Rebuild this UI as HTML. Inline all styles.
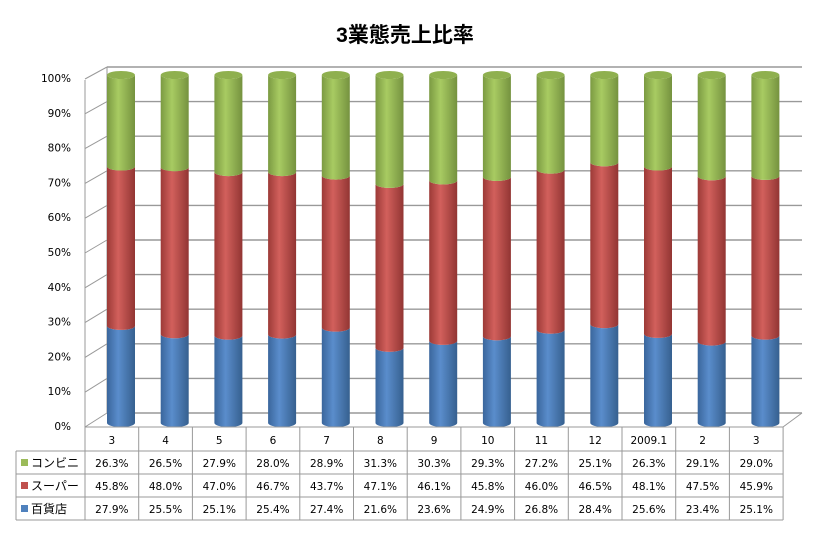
<!DOCTYPE html><html><head><meta charset="utf-8"><style>
body{margin:0;background:#fff}
svg{display:block;font-family:"DejaVu Sans","Noto Sans CJK JP",sans-serif}
</style></head><body>
<svg id="s" width="835" height="538" viewBox="0 0 835 538">
<defs>
<linearGradient id="gb" x1="0" x2="1"><stop offset="0" stop-color="#3a669c"/><stop offset="0.4" stop-color="#5a8dcc"/><stop offset="1" stop-color="#36608f"/></linearGradient>
<linearGradient id="gr" x1="0" x2="1"><stop offset="0" stop-color="#9c3a37"/><stop offset="0.4" stop-color="#d2605c"/><stop offset="1" stop-color="#923533"/></linearGradient>
<linearGradient id="gg" x1="0" x2="1"><stop offset="0" stop-color="#7b9a42"/><stop offset="0.4" stop-color="#a8cb62"/><stop offset="1" stop-color="#75923f"/></linearGradient>
</defs>
<text x="405" y="42" font-size="21" font-weight="bold" text-anchor="middle" fill="#000" font-family="Liberation Sans, Noto Sans CJK JP, sans-serif">3業態売上比率</text>
<g id="grid"></g><g id="bars"></g><g id="tbl"></g>
</svg>
<script>
var ns="http://www.w3.org/2000/svg";
function el(p,t,a,txt){var e=document.createElementNS(ns,t);for(var k in a)e.setAttribute(k,a[k]);if(txt!=null)e.textContent=txt;p.appendChild(e);return e;}
var g=document.getElementById('grid');
for(var i=0;i<=10;i++){var yb=413-i*34.6,yf=426-i*34.8;
 el(g,'line',{x1:107,y1:yb,x2:802,y2:yb,stroke:'#999','stroke-width':1.4});
 el(g,'line',{x1:85,y1:yf+1,x2:107,y2:yb,stroke:'#999','stroke-width':1});
 el(g,'text',{x:71,y:yf+4,'font-size':10.5,'text-anchor':'end',fill:'#000'},(i*10)+'%');}
el(g,'line',{x1:107,y1:67,x2:107,y2:413,stroke:'#999'});
el(g,'line',{x1:85,y1:80,x2:85,y2:427,stroke:'#999'});
el(g,'line',{x1:85,y1:427,x2:783,y2:427,stroke:'#999'});
el(g,'line',{x1:783,y1:427,x2:802,y2:413,stroke:'#999'});
var cats=['3','4','5','6','7','8','9','10','11','12','2009.1','2','3'];
var conv=[26.3,26.5,27.9,28.0,28.9,31.3,30.3,29.3,27.2,25.1,26.3,29.1,29.0];
var sup=[45.8,48.0,47.0,46.7,43.7,47.1,46.1,45.8,46.0,46.5,48.1,47.5,45.9];
var dep=[27.9,25.5,25.1,25.4,27.4,21.6,23.6,24.9,26.8,28.4,25.6,23.4,25.1];
var b=document.getElementById('bars');
var W=28,ry=4,base=423,H=348;
function seg(cx,y0,y1,fill,top){
 var x0=cx-W/2,x1=cx+W/2;
 el(b,'path',{d:'M'+x0+','+y1+' L'+x0+','+y0+' A'+(W/2)+','+ry+' 0 0 0 '+x1+','+y0+' L'+x1+','+y1+' A'+(W/2)+','+ry+' 0 0 1 '+x0+','+y1+'Z',fill:fill});
 if(top)el(b,'ellipse',{cx:cx,cy:y1,rx:W/2,ry:ry,fill:top});
}
for(var i=0;i<13;i++){var cx=121+53.7*i;
 var yd=base-dep[i]/100*H, ys=yd-sup[i]/100*H;
 seg(cx,base,yd,'url(#gb)');
 seg(cx,yd,ys,'url(#gr)');
 seg(cx,ys,base-H,'url(#gg)','#8fb04f');
}
var t=document.getElementById('tbl');
var ys=[427,451,474,497,520];
var L=16,C0=85,cw=53.7,R=C0+13*cw;
el(t,'line',{x1:C0,y1:427,x2:R,y2:427,stroke:'#999'});
for(var r=1;r<5;r++)el(t,'line',{x1:L,y1:ys[r],x2:R,y2:ys[r],stroke:'#999'});
el(t,'line',{x1:L,y1:451,x2:L,y2:520,stroke:'#999'});
for(var c=0;c<=13;c++)el(t,'line',{x1:C0+c*cw,y1:427,x2:C0+c*cw,y2:520,stroke:'#999'});
var rows=[conv,sup,dep],names=['コンビニ','スーパー','百貨店'],cols=['#9BBB59','#C0504D','#4F81BD'];
for(var c=0;c<13;c++){var x=C0+c*cw+cw/2;
 el(t,'text',{x:x,y:444,'font-size':10.5,'text-anchor':'middle'},cats[c]);
 for(var r=0;r<3;r++)el(t,'text',{x:x,y:ys[r+1]+16,'font-size':10.5,'text-anchor':'middle'},rows[r][c].toFixed(1)+'%');}
for(var r=0;r<3;r++){el(t,'rect',{x:21,y:ys[r+1]+8,width:7,height:7,fill:cols[r]});
 el(t,'text',{x:31,y:ys[r+1]+16,'font-size':12,'font-family':'Noto Sans CJK JP, sans-serif'},names[r]);}
</script>
</body></html>
